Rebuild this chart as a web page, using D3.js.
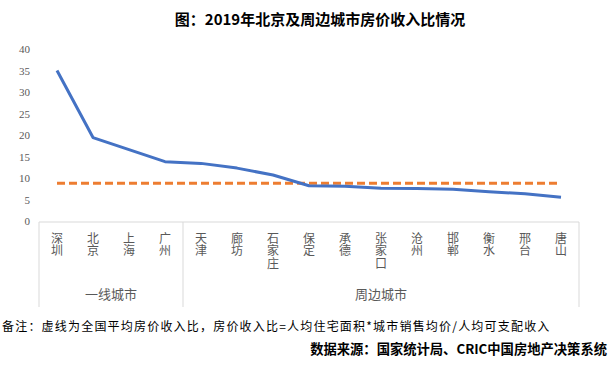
<!DOCTYPE html>
<html>
<head>
<meta charset="utf-8">
<script src="https://cdn.jsdelivr.net/npm/d3@7"></script>
<style>
  body { margin: 0; background: #fff; }
  text { font-family: "Noto Sans CJK SC", "Noto Sans", sans-serif; }
</style>
</head>
<body>
<div id="chart"></div>
<script>
let cities = ["深圳", "北京", "上海", "广州", "天津", "廊坊", "石家庄", "保定", "承德", "张家口", "沧州", "邯郸", "衡水", "邢台", "唐山"];
let ratios = [35.0, 19.4, 16.6, 13.8, 13.4, 12.3, 10.7, 8.2, 8.1, 7.6, 7.55, 7.4, 6.8, 6.35, 5.5];
let nationalAvg = 8.8;
let groups = [
  { name: "一线城市", from: 0, to: 3 },
  { name: "周边城市", from: 4, to: 14 }
];
let yTicks = [0, 5, 10, 15, 20, 25, 30, 35, 40];

let width = 614,
  height = 365;

let svg = d3.select("#chart")
  .append("svg")
  .attr("width", width)
  .attr("height", height);

let x = d3.scaleBand()
  .domain(cities)
  .range([39, 579])
  .padding(0);

let y = d3.scaleLinear()
  .domain([0, 40])
  .range([221, 49]);

let cx = d => x(d) + x.bandwidth() / 2;

// title
svg.append("text")
  .attr("x", 320)
  .attr("y", 25)
  .attr("text-anchor", "middle")
  .attr("font-size", 15)
  .attr("font-weight", "bold")
  .attr("fill", "#000")
  .text("图：2019年北京及周边城市房价收入比情况");

// y axis labels only
let yAxis = svg.append("g")
  .attr("transform", "translate(30,0)")
  .call(d3.axisLeft(y).tickValues(yTicks).tickSize(0).tickPadding(0));
yAxis.select(".domain").remove();
yAxis.selectAll("text")
  .attr("font-size", 11)
  .attr("fill", "#595959")
  .style("font-family", "'Liberation Serif', 'DejaVu Serif', serif");

// x axis line + group separators
svg.append("line")
  .attr("x1", 39).attr("x2", 579)
  .attr("y1", 222).attr("y2", 222)
  .attr("stroke", "#d9d9d9");

let seps = [x.range()[0], x(cities[groups[1].from]), x.range()[1]];
svg.selectAll(".sep")
  .data(seps)
  .join("line")
  .attr("class", "sep")
  .attr("x1", d => d).attr("x2", d => d)
  .attr("y1", 222).attr("y2", 307)
  .attr("stroke", "#d9d9d9");

// vertical city labels
svg.selectAll(".city")
  .data(cities)
  .join("text")
  .attr("class", "city")
  .attr("x", d => cx(d))
  .attr("y", 232)
  .style("writing-mode", "vertical-rl")
  .style("glyph-orientation-vertical", "0")
  .attr("font-size", 12)
  .attr("letter-spacing", 0.7)
  .attr("fill", "#595959")
  .text(d => d);

// group labels
svg.selectAll(".group")
  .data(groups)
  .join("text")
  .attr("class", "group")
  .attr("x", d => (x(cities[d.from]) + x(cities[d.to]) + x.bandwidth()) / 2)
  .attr("y", 299)
  .attr("text-anchor", "middle")
  .attr("font-size", 13)
  .attr("fill", "#595959")
  .text(d => d.name);

// national average dashed line
svg.append("line")
  .attr("x1", cx(cities[0]))
  .attr("x2", cx(cities[cities.length - 1]))
  .attr("y1", y(nationalAvg))
  .attr("y2", y(nationalAvg))
  .attr("stroke", "#ED7D31")
  .attr("stroke-width", 3)
  .attr("stroke-dasharray", "8,4");

// ratio line
let line = d3.line()
  .x((d, i) => cx(cities[i]))
  .y(d => y(d));

svg.append("path")
  .datum(ratios)
  .attr("d", line)
  .attr("fill", "none")
  .attr("stroke", "#4472C4")
  .attr("stroke-width", 3)
  .attr("stroke-linejoin", "round");

// footnotes
svg.append("text")
  .attr("x", 2)
  .attr("y", 331)
  .attr("font-size", 12)
  .attr("letter-spacing", 1.2)
  .attr("fill", "#000")
  .text("备注：虚线为全国平均房价收入比，房价收入比=人均住宅面积*城市销售均价/人均可支配收入");

svg.append("text")
  .attr("x", 607)
  .attr("y", 354)
  .attr("text-anchor", "end")
  .attr("font-size", 13.3)
  .attr("font-weight", "bold")
  .attr("fill", "#000")
  .text("数据来源：国家统计局、CRIC中国房地产决策系统");
</script>
</body>
</html>
